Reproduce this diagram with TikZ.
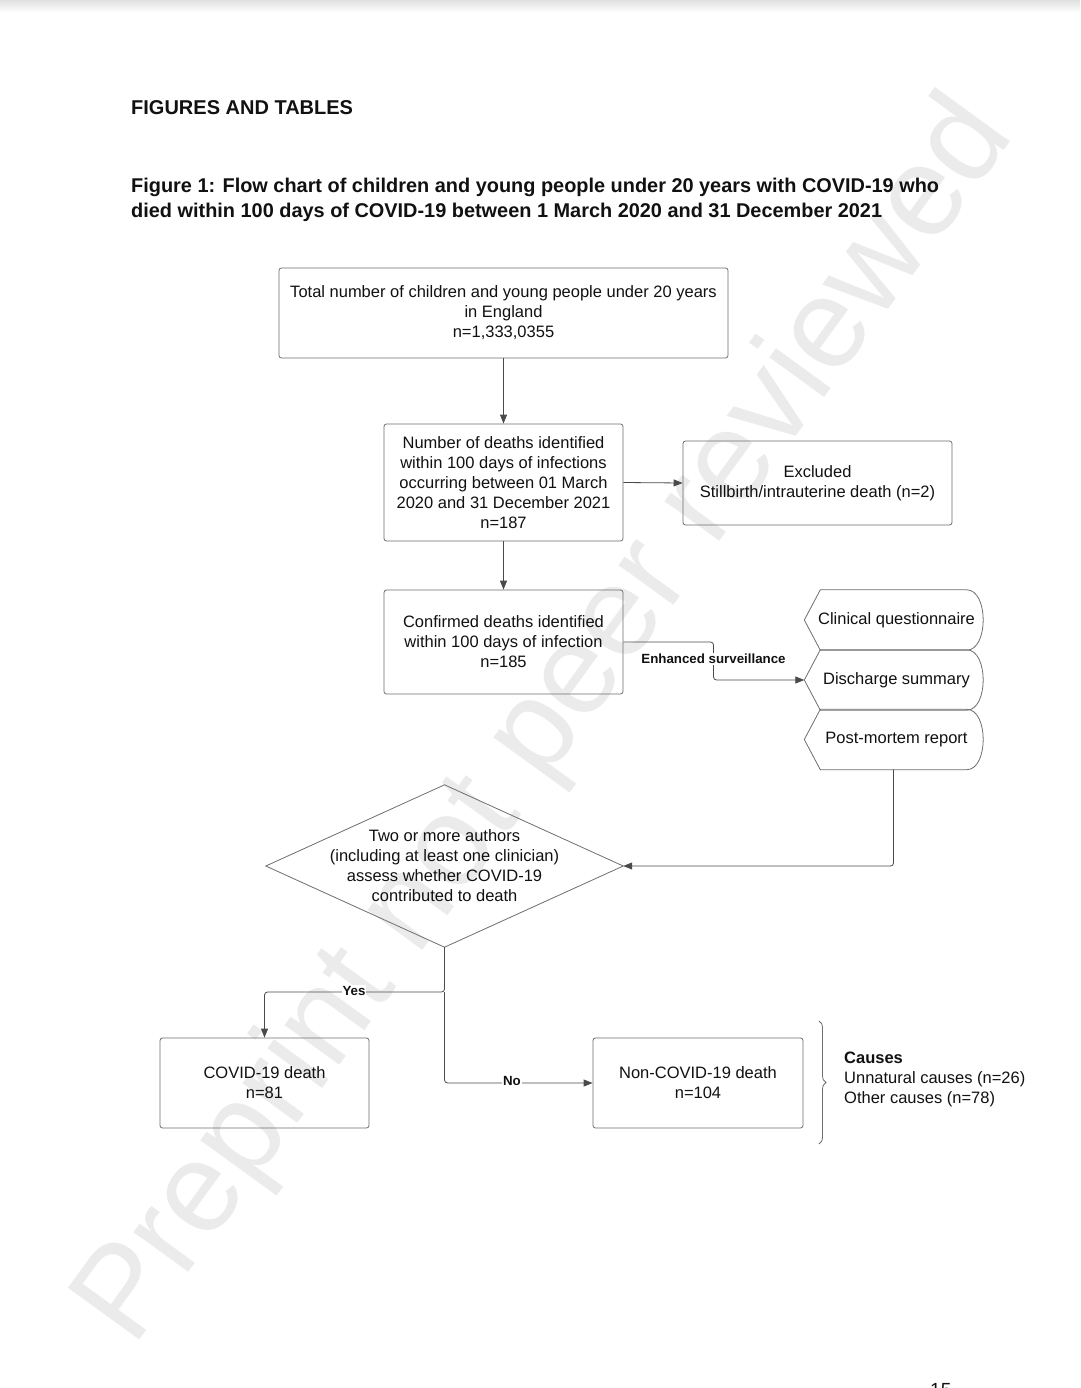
\documentclass[tikz,border=0pt]{standalone}
\usepackage{fontspec}
\setmainfont{Liberation Sans}
\usetikzlibrary{decorations.pathreplacing,arrows.meta}
\definecolor{lc}{HTML}{4A4A4A}
\definecolor{bc}{HTML}{6E6E6E}
\definecolor{wm}{HTML}{EBEBEB}
\definecolor{tc}{HTML}{111111}
\newcommand\bodyfs{\fontsize{16.5}{20}\selectfont}
\newcommand\labfs{\fontsize{13.3}{15}\selectfont\bfseries}
\begin{document}
\begin{tikzpicture}[x=1pt,y=-1pt,
  box/.style={draw=bc, rounded corners=2.5pt, line width=0.8pt, align=center, font=\bodyfs, text=tc, inner sep=0pt},
  disp/.style={align=center, font=\bodyfs, text=tc, inner sep=0pt, minimum width=178pt, minimum height=60pt},
  dshape/.style={draw=bc, line width=0.8pt},
  conn/.style={draw=lc, line width=0.8pt},
  arr/.style={conn, -{Triangle[length=9pt,width=7pt]}},
  lab/.style={font=\labfs, text=tc, fill=white, inner sep=1pt},
]
\useasboundingbox (0,0) rectangle (1080,1388);
\fill[white] (0,0) rectangle (1080,1388);
\shade[top color=black!12, bottom color=white] (0,0) rectangle (1080,12);

% watermark
\node[rotate=54, text=wm, font=\fontsize{128}{128}\selectfont, inner sep=0pt] (wmk) at (548,722) {Preprint not peer reviewed};

% headings
\node[anchor=base west, font=\fontsize{20}{25}\selectfont\bfseries, text=tc, inner sep=0pt] (hd) at (131,115) {FIGURES AND TABLES};
\node[anchor=north west, align=left, font=\fontsize{19.9}{25}\selectfont\bfseries, text=tc, inner sep=0pt] (cap) at (131,178)
  {Figure 1: Flow chart of children and young people under 20 years with COVID-19 who\\
   died within 100 days of COVID-19 between 1 March 2020 and 31 December 2021};

% boxes
\node[box, minimum width=449pt, minimum height=90pt] (b1) at (503.5,313)
  {Total number of children and young people under 20 years\\in England\\n=1,333,0355};
\node[box, minimum width=239pt, minimum height=117pt] (b2) at (503.5,482.5)
  {Number of deaths identified\\within 100 days of infections\\occurring between 01 March\\2020 and 31 December 2021\\n=187};
\node[box, minimum width=269pt, minimum height=84pt] (ex) at (817.5,483)
  {Excluded\\Stillbirth/intrauterine death (n=2)};
\node[box, minimum width=239pt, minimum height=104pt] (b3) at (503.5,642)
  {Confirmed deaths identified\\within 100 days of infection\\n=185};

% display shapes
\node[disp] (cq) at (893.5,620) {\hspace*{6pt}Clinical questionnaire};
\node[disp] (ds) at (893.5,680) {\hspace*{6pt}Discharge summary};
\node[disp] (pm) at (893.5,739.5) {\hspace*{6pt}Post-mortem report};
\foreach \n in {cq,ds,pm}{
  \draw[dshape] (\n.west) -- ([xshift=16pt]\n.north west) -- ([xshift=-16pt]\n.north east)
    .. controls ([xshift=6pt]\n.north east) and ([xshift=6pt]\n.south east) .. ([xshift=-16pt]\n.south east)
    -- ([xshift=16pt]\n.south west) -- cycle;
}

% diamond
\node[align=center, font=\bodyfs, text=tc, inner sep=0pt, minimum width=357pt, minimum height=162pt] (dia) at (444.5,866)
  {Two or more authors\\(including at least one clinician)\\assess whether COVID-19\\contributed to death};
\draw[dshape] (dia.west) -- (dia.north) -- (dia.east) -- (dia.south) -- cycle;

% outcome boxes
\node[box, minimum width=209pt, minimum height=90pt] (cov) at (264.5,1083) {COVID-19 death\\n=81};
\node[box, minimum width=210pt, minimum height=90pt] (ncov) at (698,1083) {Non-COVID-19 death\\n=104};

% connectors
\draw[arr] (b1.south) -- (b2.north);
\draw[arr] (b2.east) -- (ex.west);
\draw[arr] (b2.south) -- (b3.north);
\draw[arr, rounded corners=3pt] (b3.east) -| (713.5,661) |- (ds.west);
\node[lab] (es) at (713.5,659) {Enhanced surveillance};
\draw[arr, rounded corners=3pt] (pm.south) |- (dia.east);
\coordinate (split) at (444.5,992);
\draw[arr, rounded corners=3pt] (dia.south) -- (split) -| (cov.north);
\node[lab] (yes) at (354,991) {Yes};
\draw[arr, rounded corners=3pt] (split) |- (ncov.west);
\node[lab] (no) at (512,1081) {No};

% brace and causes
\coordinate (bt) at (819,1021);
\coordinate (bb) at (819,1144);
\draw[draw=bc, line width=0.8pt, decorate, decoration={brace, amplitude=7pt}] (bt) -- (bb);
\node[anchor=north west, align=left, font=\bodyfs, text=tc, inner sep=0pt] (causes) at (844,1052)
  {\textbf{Causes}\\Unnatural causes (n=26)\\Other causes (n=78)};

% page number (cut off)
\node[anchor=north west, font=\fontsize{19}{19}\selectfont, text=tc, inner sep=0pt] (pg) at (930,1383) {15};
\end{tikzpicture}
\end{document}
